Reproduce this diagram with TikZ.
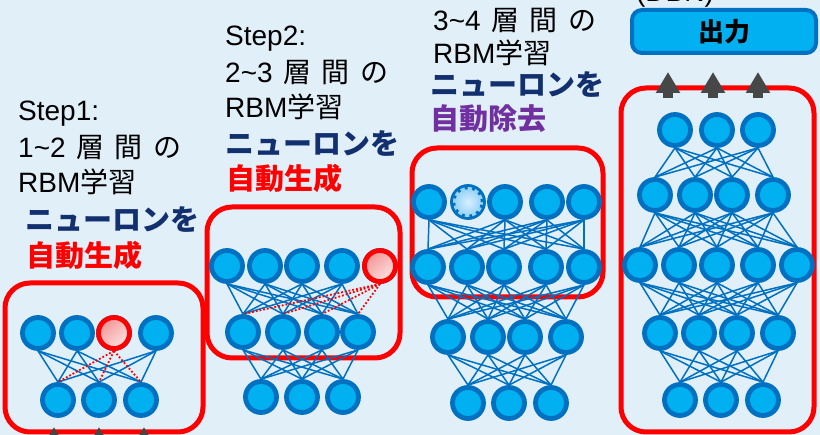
\documentclass[tikz,border=0pt]{standalone}
\usepackage{fontspec}
\setmainfont{Liberation Sans}
\newfontfamily\jp{Noto Sans CJK JP}
\usetikzlibrary{arrows.meta}
\definecolor{bgc}{HTML}{E1EFF9}
\definecolor{nfill}{HTML}{00B0F0}
\definecolor{ndraw}{HTML}{0070C0}
\definecolor{navy}{HTML}{13306E}
\definecolor{purp}{HTML}{7030A0}
\definecolor{agray}{HTML}{474747}
\definecolor{pinkA}{HTML}{F39494}
\definecolor{pinkB}{HTML}{FFE2E2}
\definecolor{ghostA}{HTML}{D8F0FF}
\definecolor{ghostB}{HTML}{8FD0F4}
\pgfdeclarelayer{back}
\pgfdeclarelayer{lines}
\pgfsetlayers{back,lines,main}
\newcommand{\gap}{\hspace{10.5pt}}
\tikzset{
  neuron/.style={circle, draw=ndraw, fill=nfill, line width=4.8pt, minimum size=31pt, inner sep=0pt},
  newneuron/.style={circle, draw=red, line width=4.8pt, minimum size=31pt, inner sep=0pt,
    top color=pinkA, bottom color=pinkB, shading angle=40},
  ghost/.style={circle, draw=ndraw, line width=4.5pt, minimum size=30pt, inner sep=0pt,
    dash pattern=on 3pt off 5pt, inner color=ghostA, outer color=ghostB},
  conn/.style={draw=ndraw, line width=1.5pt},
  rconn/.style={draw=red, line width=1.8pt, dotted},
  frame/.style={draw=red, line width=5pt, rounded corners=25pt},
  bigarrow/.style={draw=agray, line width=10pt, -{Triangle[width=23pt,length=21pt]}},
  lbl/.style={font=\fontsize{28}{28}\selectfont, anchor=base west, inner sep=0pt},
  blbl/.style={font=\jp\bfseries\fontsize{29}{29}\selectfont, anchor=base west, inner sep=0pt},
  outbox/.style={draw=ndraw, fill=nfill, line width=4pt, rounded corners=10pt,
    minimum width=184pt, minimum height=43pt, inner sep=0pt,
    font=\jp\bfseries\fontsize{26}{26}\selectfont}
}
\begin{document}
\begin{tikzpicture}[x=1pt,y=-1pt]
\useasboundingbox (0,0) rectangle (820,435);
\begin{pgfonlayer}{back}
  \fill[bgc] (0,0) rectangle (820,435);
  \draw[frame] (5,283) rectangle (203,432);
  \draw[frame] (207,207) rectangle (400,358);
  \draw[frame] (412,148) rectangle (603,297);
  \draw[frame] (621,88) rectangle (814,432);
\end{pgfonlayer}

% ---- texts ----
\node[lbl] (s1a) at (18,121) {Step1:};
\node[lbl] (s1b) at (18,158) {1\textasciitilde2\gap{\jp 層}\gap{\jp 間}\gap{\jp の}};
\node[lbl] (s1c) at (18,193) {RBM{\jp 学習}};
\node[blbl, text=navy] (s1d) at (25,231) {ニューロンを};
\node[blbl, text=red] (s1e) at (26,267) {自動生成};

\node[lbl] (s2a) at (225,46) {Step2:};
\node[lbl] (s2b) at (225,83) {2\textasciitilde3\gap{\jp 層}\gap{\jp 間}\gap{\jp の}};
\node[lbl] (s2c) at (225,118) {RBM{\jp 学習}};
\node[blbl, text=navy] (s2d) at (225,155) {ニューロンを};
\node[blbl, text=red] (s2e) at (226,190) {自動生成};

\node[lbl] (s3b) at (433,31) {3\textasciitilde4\gap{\jp 層}\gap{\jp 間}\gap{\jp の}};
\node[lbl] (s3c) at (433,64) {RBM{\jp 学習}};
\node[blbl, text=navy] (s3d) at (430,96) {ニューロンを};
\node[blbl, text=purp] (s3e) at (430,130) {自動除去};

\node[font=\fontsize{28}{28}\selectfont, anchor=base, inner sep=0pt] (dbn) at (675,2) {(DBN)};
\node[outbox] (out) at (724,31.5) {出力};

% ---- network 1 ----
\foreach \x [count=\i] in {38,77,114,156} {\node[neuron] (a\i) at (\x,333) {};}
\node[newneuron] (a3) at (114,333) {};
\foreach \x [count=\i] in {58,99,141} {\node[neuron] (b\i) at (\x,400) {};}

% ---- network 2 ----
\foreach \x [count=\i] in {227,265,302,342,380} {\node[neuron] (c\i) at (\x,266) {};}
\node[newneuron] (c5) at (380,266) {};
\foreach \x [count=\i] in {243,283,322,358} {\node[neuron] (d\i) at (\x,332) {};}
\foreach \x [count=\i] in {261,302,343} {\node[neuron] (e\i) at (\x,397) {};}

% ---- network 3 ----
\foreach \x [count=\i] in {429,468,505,547,584} {\node[neuron] (f\i) at (\x,202) {};}
\node[ghost] (f2) at (468,202) {};
\foreach \x [count=\i] in {428,467,504,546,584} {\node[neuron] (g\i) at (\x,267) {};}
\foreach \x [count=\i] in {448,488,525,566} {\node[neuron] (h\i) at (\x,337) {};}
\foreach \x [count=\i] in {468,509,551} {\node[neuron] (i\i) at (\x,403) {};}

% ---- network 4 ----
\foreach \x [count=\i] in {675,717,758} {\node[neuron] (j\i) at (\x,130) {};}
\foreach \x [count=\i] in {655,695,732,773} {\node[neuron] (k\i) at (\x,195) {};}
\foreach \x [count=\i] in {640,679,717,758,797} {\node[neuron] (l\i) at (\x,265) {};}
\foreach \x [count=\i] in {660,699,737,778} {\node[neuron] (m\i) at (\x,333) {};}
\foreach \x [count=\i] in {680,721,763} {\node[neuron] (n\i) at (\x,400) {};}

\begin{pgfonlayer}{lines}
  % net 1
  \foreach \u in {1,2,4} \foreach \v in {1,2,3} \draw[conn] (a\u.south) -- (b\v.north);
  \foreach \v in {1,2,3} \draw[rconn] (a3.south) -- (b\v.north);
  % net 2
  \foreach \u in {1,2,3,4} \foreach \v in {1,2,3,4} \draw[conn] (c\u.south) -- (d\v.north);
  \foreach \v in {1,2,3,4} \draw[rconn] (c5.south) -- (d\v.north);
  \foreach \u in {1,2,3,4} \foreach \v in {1,2,3} \draw[conn] (d\u.south) -- (e\v.north);
  % net 3
  \foreach \u in {1,3,4,5} \foreach \v in {1,2,3,4,5} \draw[conn] (f\u.south) -- (g\v.north);
  \foreach \u in {1,2,3,4,5} \foreach \v in {1,2,3,4} \draw[conn] (g\u.south) -- (h\v.north);
  \foreach \u in {1,2,3,4} \foreach \v in {1,2,3} \draw[conn] (h\u.south) -- (i\v.north);
  % net 4
  \foreach \u in {1,2,3} \foreach \v in {1,2,3,4} \draw[conn] (j\u.south) -- (k\v.north);
  \foreach \u in {1,2,3,4} \foreach \v in {1,2,3,4,5} \draw[conn] (k\u.south) -- (l\v.north);
  \foreach \u in {1,2,3,4,5} \foreach \v in {1,2,3,4} \draw[conn] (l\u.south) -- (m\v.north);
  \foreach \u in {1,2,3,4} \foreach \v in {1,2,3} \draw[conn] (m\u.south) -- (n\v.north);
\end{pgfonlayer}

% ---- arrows ----
\foreach \x [count=\i] in {54,99,144} {
  \coordinate (ib\i) at (\x,455);
  \coordinate (it\i) at (\x,427);
  \draw[bigarrow] (ib\i) -- (it\i);
}
\foreach \x [count=\i] in {668,713,758} {
  \coordinate (ob\i) at (\x,98);
  \coordinate (ot\i) at (\x,72);
  \draw[bigarrow] (ob\i) -- (ot\i);
}
\end{tikzpicture}
\end{document}
